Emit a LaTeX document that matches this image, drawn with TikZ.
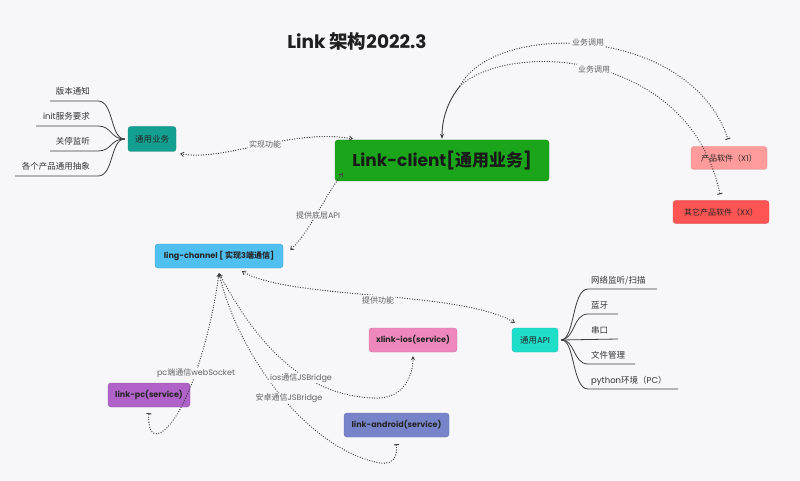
\documentclass[tikz,border=0pt]{standalone}
\usepackage{fontspec}
\setmainfont{Poppins}
\newfontfamily\cjk{Noto Sans CJK SC}
\newcommand\zhtxt[1]{{\cjk #1}}
\usetikzlibrary{arrows.meta,calc}
\definecolor{bg}{HTML}{F7F7FA}
\definecolor{cgreen}{HTML}{1BA51B}
\definecolor{cteal}{HTML}{13A090}
\definecolor{cblue}{HTML}{4FC0F0}
\definecolor{ccyan}{HTML}{1DDFC9}
\definecolor{cpink}{HTML}{EE88BC}
\definecolor{cpurple}{HTML}{B062C8}
\definecolor{cslate}{HTML}{7784CA}
\definecolor{cpinkred}{HTML}{FF9B9B}
\definecolor{cred}{HTML}{FF5454}
\definecolor{lc}{HTML}{3C3C3C}
\tikzset{
  sarr/.tip={Stealth[length=4pt,width=4pt]},
  barb/.tip={Straight Barb[length=3pt,width=4.5pt,line width=0.8pt]},
  bart/.tip={Bar[width=5pt,line width=1pt]}
}
\begin{document}
\begin{tikzpicture}[x=1pt,y=-1pt,
  box/.style={rounded corners=3pt, minimum height=24pt, inner sep=0pt,
    font=\fontsize{8}{9}\selectfont\bfseries, text=black!85},
  lbl/.style={fill=bg, inner sep=1pt, text=black!62, font=\fontsize{8}{9}\selectfont},
  brt/.style={inner sep=0pt, text=black!80, font=\fontsize{8.5}{10}\selectfont},
  branch/.style={draw=lc, line width=0.8pt},
  rel/.style={draw=lc, line width=1.3pt, line cap=round, dash pattern=on 0pt off 2.5pt}
]
\useasboundingbox (0,0) rectangle (800,481);
\fill[bg] (0,0) rectangle (800,481);

% title
\node[inner sep=0pt, font=\fontsize{18.5}{21}\selectfont\bfseries, text=black!88] (title) at (357,41)
  {Link \zhtxt{架构}2022.3};

% main nodes
\node[box, fill=cgreen, draw=cgreen!80!black, minimum width=214pt, minimum height=41pt,
  font=\fontsize{17}{20}\selectfont\bfseries, text=black!90] (client) at (442,160.5)
  {Link-client[\zhtxt{通用业务}]};
\node[box, fill=cteal, draw=cteal!85!black, minimum width=48pt, minimum height=25pt,
  font=\fontsize{8.5}{10}\selectfont] (tyyw) at (152,139) {\zhtxt{通用业务}};
\node[box, fill=cblue, draw=cblue!85!black, minimum width=128pt] (channel) at (219,256)
  {ling-channel [ \zhtxt{实现}3\zhtxt{端通信}]};
\node[box, fill=ccyan, draw=ccyan!85!black, minimum width=46pt,
  font=\fontsize{8.5}{10}\selectfont] (api) at (535,340) {\zhtxt{通用}API};
\node[box, fill=cpink, draw=cpink!85!black, minimum width=88pt] (ios) at (413,340) {xlink-ios(service)};
\node[box, fill=cpurple, draw=cpurple!85!black, minimum width=82pt] (pc) at (149,395) {link-pc(service)};
\node[box, fill=cslate, draw=cslate!85!black, minimum width=105pt] (android) at (396.5,425) {link-android(service)};
\node[box, fill=cpinkred, draw=cpinkred!90!black, minimum width=76pt, minimum height=23pt,
  font=\fontsize{8}{9}\selectfont] (x1) at (729,158) {\zhtxt{产品软件（}X1\zhtxt{）}};
\node[box, fill=cred, draw=cred!85!black, minimum width=96pt, minimum height=23pt,
  font=\fontsize{8}{9}\selectfont] (xx) at (721,212) {\zhtxt{其它产品软件（}XX\zhtxt{）}};

% left branches of 通用业务
\coordinate (tw) at ($(tyyw.west)+(-3,0)$);
\draw[branch] (tw) .. controls (110,139) and (114,101) .. (98,101) -- (50,101);
\draw[branch] (tw) .. controls (110,139) and (112,126) .. (98,126) -- (36,126);
\draw[branch] (tw) .. controls (110,139) and (112,151) .. (98,151) -- (50,151);
\draw[branch] (tw) .. controls (110,139) and (114,176) .. (98,176) -- (15,176);
\node[brt, anchor=base east] (b1) at (90,95) {\zhtxt{版本通知}};
\node[brt, anchor=base east] (b2) at (90,120) {init\zhtxt{服务要求}};
\node[brt, anchor=base east] (b3) at (90,145) {\zhtxt{关停监听}};
\node[brt, anchor=base east] (b4) at (90,170) {\zhtxt{各个产品通用抽象}};

% right branches of 通用API
\coordinate (ae) at ($(api.east)+(3,0)$);
\draw[branch] (ae) .. controls (575,339) and (572,289) .. (588,289) -- (657,289);
\draw[branch] (ae) .. controls (575,339) and (573,314) .. (588,314) -- (618,314);
\draw[branch] (ae) -- (618,339);
\draw[branch] (ae) .. controls (575,339) and (573,364) .. (588,364) -- (635,364);
\draw[branch] (ae) .. controls (575,339) and (572,389) .. (588,389) -- (678,389);
\node[brt, anchor=base west] (r1) at (591,283) {\zhtxt{网络监听/扫描}};
\node[brt, anchor=base west] (r2) at (591,308) {\zhtxt{蓝牙}};
\node[brt, anchor=base west] (r3) at (591,333) {\zhtxt{串口}};
\node[brt, anchor=base west] (r4) at (591,358) {\zhtxt{文件管理}};
\node[brt, anchor=base west] (r5) at (591,383) {python\zhtxt{环境（}PC\zhtxt{）}};

% relationships
% 实现功能
\draw[rel, barb-barb] ($(tyyw.south east)+(4,2)$) .. controls (225,162) and (290,128) .. ($(client.north west)+(18,-1)$);
\node[lbl] (l1) at (265,144) {\zhtxt{实现功能}};

% 提供底层API
\draw[rel, barb-barb] ($(client.south west)+(8,-8)$) .. controls (325,195) and (310,232) .. ($(channel.east)+(7,-6)$);
\node[lbl] (l2) at (318,215) {\zhtxt{提供底层}API};

% 业务调用 x2
\coordinate (j) at (460,86);
\draw[lc, line width=0.9pt, -{Stealth[length=5pt,width=4pt]}] (j) .. controls (447,102) and (442,120) .. ($(client.north)+(0,-1)$);
\draw[rel, -bart] (j) .. controls (495,20) and (690,25) .. ($(x1.north)+(-1,-7)$);
\draw[rel, -bart] (j) .. controls (510,40) and (690,50) .. ($(xx.north)+(-1,-6)$);
\node[lbl] (l3) at (588,42) {\zhtxt{业务调用}};
\node[lbl] (l4) at (594,69) {\zhtxt{业务调用}};

% 提供功能
\draw[rel, barb-barb] ($(channel.south)+(23,3)$) .. controls (290,300) and (460,290) .. ($(api.north west)+(3,-5)$);
\node[lbl] (l5) at (378,300) {\zhtxt{提供功能}};

% channel -> pc / ios / android
\coordinate (cs) at ($(channel.south)+(0,5)$);
\draw[rel, sarr-bart] (cs) .. controls (210,340) and (185,420) .. (160,433)
  .. controls (150,437) and (148,425) .. ($(pc.south)+(0,6)$);
\draw[rel, sarr-sarr] (cs) .. controls (255,340) and (300,395) .. (373,398)
  .. controls (400,400) and (413,380) .. ($(ios.south)+(0,4)$);
\draw[rel, sarr-bart] (cs) .. controls (240,360) and (310,450) .. (380,463)
  .. controls (395,465) and (397,455) .. ($(android.south)+(0,7)$);
\node[lbl] (l6) at (196,373) {pc\zhtxt{端通信}webSocket};
\node[lbl] (l7) at (301,378) {ios\zhtxt{通信}JSBridge};
\node[lbl] (l8) at (289,398) {\zhtxt{安卓通信}JSBridge};
\end{tikzpicture}
\end{document}
